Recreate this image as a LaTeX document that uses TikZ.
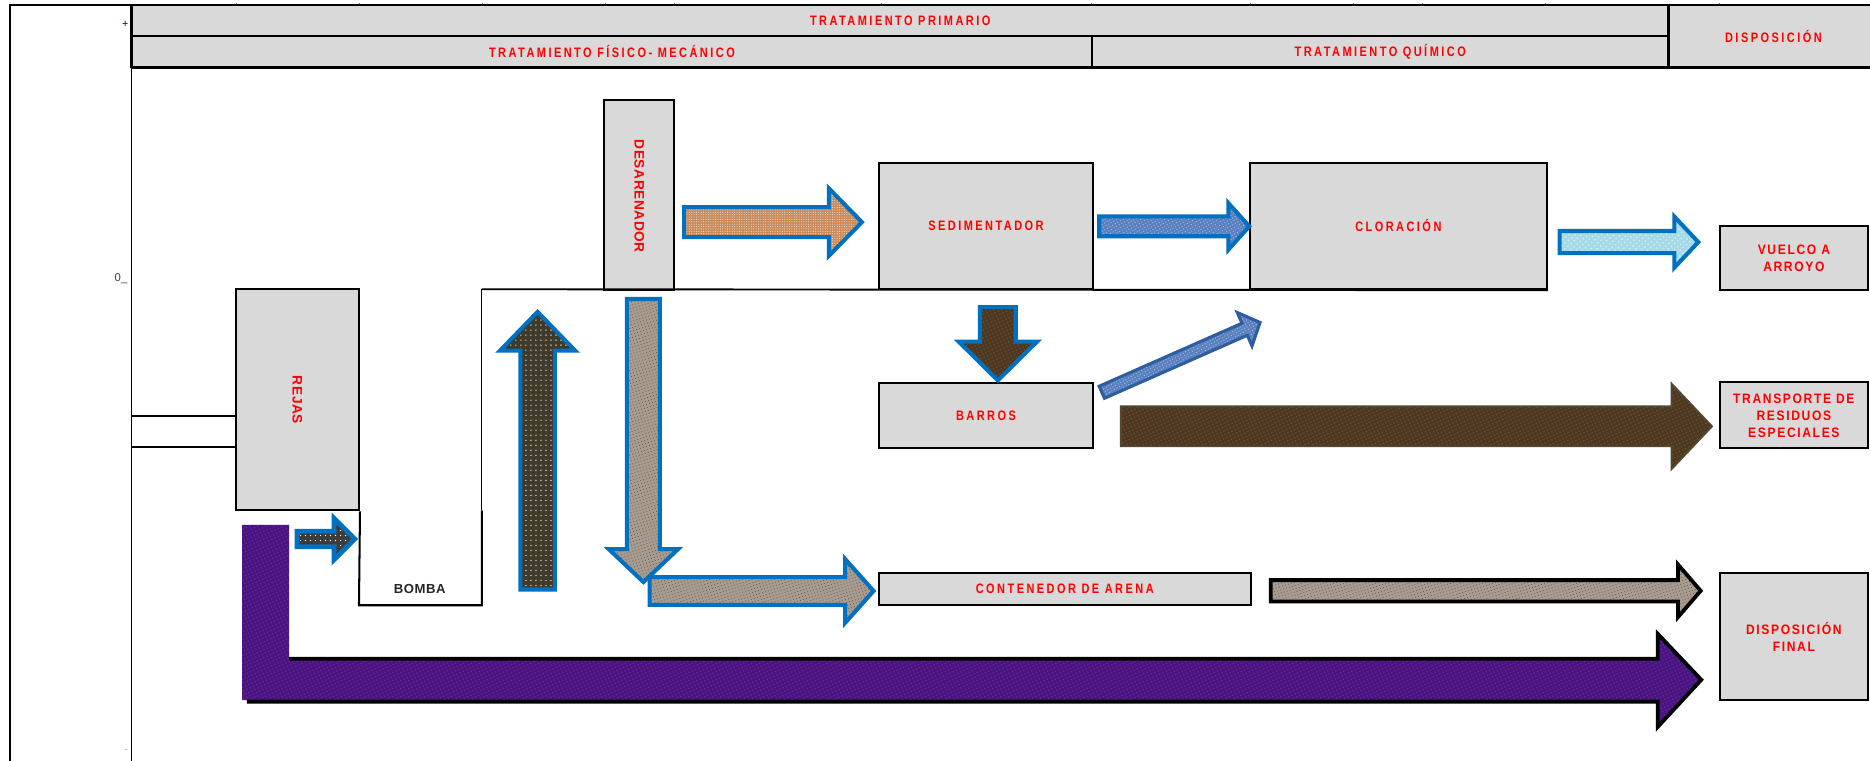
\documentclass[tikz,border=0pt]{standalone}
\usepackage{fontspec}
\setmainfont{Liberation Sans}
\newfontfamily\nfont{Liberation Sans}[FakeStretch=0.8,LetterSpace=18]
\newfontfamily\wfont{Liberation Sans}[FakeStretch=0.88,LetterSpace=12]
\newfontfamily\vfont{Liberation Sans}[LetterSpace=4]
\usetikzlibrary{patterns.meta}
\definecolor{boxgray}{HTML}{D9D9D9}
\definecolor{bl}{HTML}{0070C0}
\definecolor{darkdot}{HTML}{3C3C3C}
\definecolor{olivedk}{HTML}{3F3A2A}
\definecolor{gravelc}{HTML}{A89C90}
\definecolor{graveldk}{HTML}{6A5E54}
\definecolor{orangebr}{HTML}{C98A5A}
\definecolor{bluetex}{HTML}{5A80C0}
\definecolor{bluetexlt}{HTML}{A8BEE0}
\definecolor{bluedk}{HTML}{2F5E9E}
\definecolor{water}{HTML}{A6DAE6}
\definecolor{waterlt}{HTML}{D4F0F6}
\definecolor{mud}{HTML}{4E3822}
\definecolor{mudlt}{HTML}{6E5236}
\definecolor{mudborder}{HTML}{4F4A33}
\definecolor{purp}{HTML}{4A1580}
\definecolor{purplt}{HTML}{6A2AA0}
\newcommand{\harrowshape}[7][]{\path[#1] (#2,#5-#6) -- (#3,#5-#6) -- (#3,#5-#7) -- (#4,#5) -- (#3,#5+#7) -- (#3,#5+#6) -- (#2,#5+#6) -- cycle;}
\newcommand{\varrowshape}[7][]{\path[#1] (#5-#6,#2) -- (#5-#6,#3) -- (#5-#7,#3) -- (#5,#4) -- (#5+#7,#3) -- (#5+#6,#3) -- (#5+#6,#2) -- cycle;}
\begin{document}
\begin{tikzpicture}[x=1pt,y=-1pt,
  lbl/.style={text=red, font=\nfont\bfseries\fontsize{11.5}{14}\selectfont, align=center},
  wlbl/.style={text=red, font=\wfont\bfseries\fontsize{11.5}{14.3}\selectfont, align=center},
  vlbl/.style={text=red, font=\vfont\bfseries\fontsize{11.5}{14}\selectfont, rotate=-90},
  box/.style={draw=black, line width=1.7, fill=boxgray, inner sep=0pt, lbl},
  hdr/.style={draw=black, line width=1.8, fill=boxgray, inner sep=0pt, lbl},
  bluearr/.style={draw=bl, line width=3.4, line join=miter},
  dotted dark/.style={preaction={fill=#1}, preaction={pattern={Dots[distance=4.2pt,radius=0.55pt]}, pattern color=white}},
  gravel/.style={preaction={fill=gravelc}, preaction={pattern={Dots[distance=2.6pt,radius=0.5pt,angle=17]}, pattern color=graveldk}},
  orangetex/.style={preaction={fill=orangebr}, preaction={pattern={Dots[distance=2pt,radius=0.45pt]}, pattern color=white!80!orangebr}},
  bluetexture/.style={preaction={fill=bluetex}, preaction={pattern={Dots[distance=2.5pt,radius=0.55pt,angle=30]}, pattern color=bluetexlt}},
  watertex/.style={preaction={fill=water}, preaction={pattern={Dots[distance=3.5pt,radius=0.8pt,angle=40]}, pattern color=waterlt}},
  mudtex/.style={preaction={fill=mud}, preaction={pattern={Dots[distance=3pt,radius=0.7pt,angle=25]}, pattern color=mudlt}},
  purtex/.style={preaction={fill=purp}, preaction={pattern={Dots[distance=3pt,radius=0.7pt,angle=25]}, pattern color=purplt}}
]
\useasboundingbox (0,0) rectangle (1568,638);
\clip (0,0) rectangle (1568,638);
\fill[white] (0,0) rectangle (1568,638);

% outer frame and axis
\draw[line width=1.6] (8.5,640) -- (8.5,4.2) -- (1570,4.2);
\draw[line width=1] (110.6,4.2) -- (110.6,640);
\foreach \t in {198.6,301.6,404.7,507.7,565.6,739,915.5,1048,1134.6,1193,1296,1441.8}
  \draw[line width=0.6, gray] (\t,2.2) -- (\t,4.2);
\node[font=\fontsize{9}{10}\selectfont, text=blue!40!black] (plus) at (105,20.5) {+};
\node[font=\fontsize{9.5}{10}\selectfont, text=black!75] (zero) at (101.5,233.5) {0\_};
\node[font=\fontsize{7}{8}\selectfont, text=gray] (minus) at (106,629.5) {-};

% header
\node[hdr, minimum width=1288.4, minimum height=25.8] (prim) at (754.8,17.1) {TRATAMIENTO PRIMARIO};
\node[hdr, minimum width=805, minimum height=26.5] (fis) at (513.1,43.25) {TRATAMIENTO FÍSICO- MECÁNICO};
\node[hdr, minimum width=483.4, minimum height=26.5] (qui) at (1157.3,43.25) {TRATAMIENTO QUÍMICO};
\node[hdr, minimum width=176, minimum height=52.3] (disp) at (1487,30.35) {DISPOSICIÓN};
\draw[line width=2.6] (110.6,56.8) -- (1570,56.8);
\draw[line width=2.6] (110.6,4.2) -- (110.6,56.8);

% boxes
\node[box, minimum width=103.4, minimum height=185.4] (rejas) at (249.3,335.3) {};
\node[vlbl] (rejast) at (rejas.center) {REJAS};
\node[box, minimum width=59, minimum height=159] (desar) at (536,163.5) {};
\node[vlbl] (desart) at (536,164.5) {DESARENADOR};
\node[box, minimum width=179.5, minimum height=106.1] (sed) at (826.75,189.45) {SEDIMENTADOR};
\node[box, minimum width=249, minimum height=106.1] (clor) at (1172.5,189.45) {CLORACIÓN};
\node[box, minimum width=179.5, minimum height=54.5] (barros) at (826.75,348.25) {BARROS};
\node[box, minimum width=311.6, minimum height=27] (cont) at (892.8,494) {CONTENEDOR DE ARENA};
\node[box, wlbl, minimum width=124.7, minimum height=53.5] (vuelco) at (1504.15,216.25) {VUELCO A\\ARROYO};
\node[box, wlbl, minimum width=124.7, minimum height=55.5] (transp) at (1504.15,348.25) {TRANSPORTE DE\\RESIDUOS\\ESPECIALES};
\node[box, wlbl, minimum width=124.7, minimum height=106.5] (final) at (1504.15,533.75) {DISPOSICIÓN\\FINAL};

% inflow pipe
\coordinate (inA) at (110.6,348.5);
\coordinate (inB) at (110.6,375);
\draw[line width=1.7] (inA) -- (inA -| rejas.west);
\draw[line width=1.7] (inB) -- (inB -| rejas.west);

% bomba pit and channel line
\coordinate (pitR) at (404,428);
\coordinate (chan) at (404,242.5);
\draw[line width=1.7] (rejas.south east) -- (301,507.5) -- (404,507.5) -- (pitR);
\draw[line width=0.9] (pitR) -- (chan);
\draw[line width=1.6] (chan) -- (clor.south east);
\node[font=\vfont\bfseries\fontsize{11}{12}\selectfont, text=black!85] (bomba) at (352,494) {BOMBA};

% arrows
\harrowshape[dotted dark=darkdot, draw=bl, line width=4, line join=miter]{249}{280}{297.5}{452}{6.5}{17.5}
\varrowshape[dotted dark=olivedk, bluearr]{494.3}{294}{261.5}{450.75}{14.5}{31.5}
\varrowshape[gravel, bluearr]{250.7}{460.5}{488}{539.5}{13.8}{29}
\harrowshape[gravel, bluearr]{544.7}{708.6}{732.5}{495.5}{11.6}{26.8}
\harrowshape[orangetex, bluearr]{573.7}{695}{722.7}{186.25}{12.5}{28.3}
\harrowshape[bluetexture, bluearr]{921.7}{1030}{1047.5}{189.8}{8.3}{19.5}
\harrowshape[watertex, bluearr]{1307.7}{1404}{1424}{203}{9.3}{21.3}
\varrowshape[mudtex, bluearr]{257.5}{286.5}{319}{836.7}{15}{32.8}
\begin{scope}[shift={(922.5,329.5)}, rotate=23.8]
\harrowshape[bluetexture, draw=bluedk, line width=2.6, line join=miter]{1.5}{132.4}{146.5}{0}{5.5}{15.3}
\end{scope}
\harrowshape[mudtex, draw=mudborder, line width=1.6, line join=miter]{939.8}{1401.7}{1435.5}{357.5}{16.7}{35.7}
\harrowshape[gravel, draw=black, line width=3.2, line join=miter]{1065.5}{1407}{1426}{495.4}{9}{22}

% purple L arrow
\path[purtex] (203,440) -- (242.5,440) -- (242.5,551) -- (1390,551) -- (1390,530) -- (1428,570) -- (1390,611) -- (1390,587) -- (203,587) -- cycle;
\draw[line width=3.2, line join=miter] (242.5,552.3) -- (1390,552.3) -- (1390,531.5) -- (1426.5,570) -- (1390,609.5) -- (1390,588.3) -- (207,588.3);
\end{tikzpicture}
\end{document}
